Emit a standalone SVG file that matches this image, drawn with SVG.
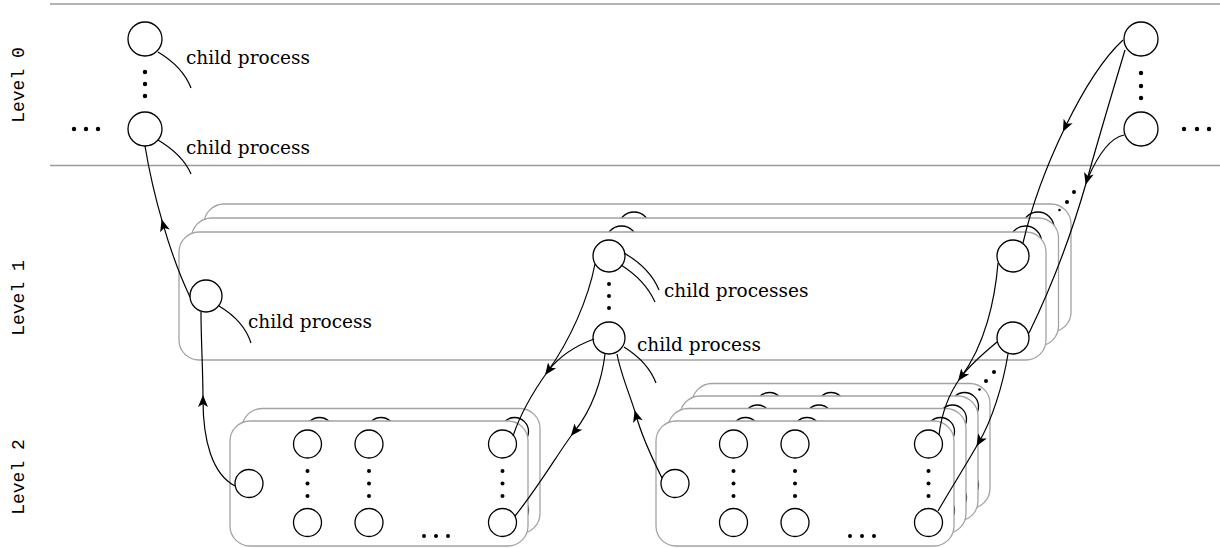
<svg xmlns="http://www.w3.org/2000/svg" xmlns:xlink="http://www.w3.org/1999/xlink" width="1220" height="548" viewBox="0 0 1220 548">
<style>
.rule{stroke:#9a9a9a;stroke-width:1.3;fill:none}
.box{fill:#fff;stroke:#a3a3a3;stroke-width:1.3}
.nd{fill:#fff;stroke:#000;stroke-width:1.3}
.dot{fill:#000}
.ln{fill:none;stroke:#000;stroke-width:1.2}
.lk{fill:none;stroke:#000;stroke-width:1.2;marker-mid:url(#arr)}
.lbl{font-family:"DejaVu Serif","Liberation Serif",serif;font-size:18.5px;fill:#000}
.lvl{font-family:"Liberation Mono","DejaVu Sans Mono",monospace;font-size:18px;fill:#000}
</style>
<defs>
<marker id="arr" viewBox="-9 -7 16 14" markerWidth="16" markerHeight="14" refX="0" refY="0" orient="auto" markerUnits="userSpaceOnUse">
<path d="M5,0 L-7,-5 L-4,0 L-7,5 Z" fill="#000"/>
</marker>
<g id="tplL1">
<rect class="box" x="179" y="232" width="867" height="128" rx="20"/>
<circle class="nd" cx="206" cy="296" r="16"/>
<circle class="nd" cx="609" cy="256" r="16"/>
<circle class="nd" cx="609" cy="338" r="16"/>
<circle class="nd" cx="1013" cy="256" r="16"/>
<circle class="nd" cx="1013" cy="338" r="16"/>
</g>
<g id="tplL2">
<rect class="box" x="230" y="421" width="298" height="125" rx="20"/>
<circle class="nd" cx="249" cy="483.5" r="14"/>
<circle class="nd" cx="307.5" cy="444" r="14"/>
<circle class="nd" cx="307.5" cy="522.5" r="14"/>
<circle class="nd" cx="369" cy="444" r="14"/>
<circle class="nd" cx="369" cy="522.5" r="14"/>
<circle class="nd" cx="502.5" cy="444" r="14"/>
<circle class="nd" cx="502.5" cy="522.5" r="14"/>
</g>
<g id="tplL2dots">
<circle class="dot" cx="307.5" cy="471" r="2"/><circle class="dot" cx="307.5" cy="483.5" r="2"/><circle class="dot" cx="307.5" cy="496" r="2"/>
<circle class="dot" cx="369" cy="471" r="2"/><circle class="dot" cx="369" cy="483.5" r="2"/><circle class="dot" cx="369" cy="496" r="2"/>
<circle class="dot" cx="502.5" cy="471" r="2"/><circle class="dot" cx="502.5" cy="483.5" r="2"/><circle class="dot" cx="502.5" cy="496" r="2"/>
<circle class="dot" cx="424" cy="536" r="2"/><circle class="dot" cx="436" cy="536" r="2"/><circle class="dot" cx="448" cy="536" r="2"/>
</g>
</defs>

<g id="rules">
<line class="rule" x1="50" y1="4" x2="1220" y2="4"/>
<line class="rule" x1="50" y1="165.5" x2="1220" y2="165.5"/>
</g>
<g id="levels">
<text class="lvl" text-anchor="middle" transform="translate(24,85) rotate(-90)">Level 0</text>
<text class="lvl" text-anchor="middle" transform="translate(24,298) rotate(-90)">Level 1</text>
<text class="lvl" text-anchor="middle" transform="translate(24,477) rotate(-90)">Level 2</text>
</g>

<!-- Level 0 -->
<g id="l0-left-top"><circle class="nd" cx="145" cy="39" r="17"/></g>
<g id="l0-left-bottom"><circle class="nd" cx="145" cy="129" r="17"/></g>
<g id="l0-right-top"><circle class="nd" cx="1141" cy="39" r="17"/></g>
<g id="l0-right-bottom"><circle class="nd" cx="1141" cy="129" r="17"/></g>
<g id="l0-dots">
<circle class="dot" cx="145" cy="72" r="2.2"/><circle class="dot" cx="145" cy="84" r="2.2"/><circle class="dot" cx="145" cy="96" r="2.2"/>
<circle class="dot" cx="74" cy="129" r="2.2"/><circle class="dot" cx="86" cy="129" r="2.2"/><circle class="dot" cx="98" cy="129" r="2.2"/>
<circle class="dot" cx="1141" cy="73" r="2.2"/><circle class="dot" cx="1141" cy="86" r="2.2"/><circle class="dot" cx="1141" cy="98" r="2.2"/>
<circle class="dot" cx="1184" cy="129" r="2.2"/><circle class="dot" cx="1197" cy="129" r="2.2"/><circle class="dot" cx="1209" cy="129" r="2.2"/>
</g>

<!-- Level 1 stack -->
<g id="l1-stack">
<use xlink:href="#tplL1" href="#tplL1" transform="translate(25,-28)"/>
<use xlink:href="#tplL1" href="#tplL1" transform="translate(12.5,-14)"/>
<rect class="box" x="179" y="232" width="867" height="128" rx="20"/>
</g>
<g id="l1-left"><circle class="nd" cx="206" cy="296" r="16"/></g>
<g id="l1-center-top"><circle class="nd" cx="609" cy="256" r="16"/></g>
<g id="l1-center-bottom"><circle class="nd" cx="609" cy="338" r="16"/></g>
<g id="l1-right-top"><circle class="nd" cx="1013" cy="256" r="16"/></g>
<g id="l1-right-bottom"><circle class="nd" cx="1013" cy="338" r="16"/></g>
<g id="l1-dots">
<circle class="dot" cx="609" cy="284" r="2"/><circle class="dot" cx="609" cy="296" r="2"/><circle class="dot" cx="609" cy="308" r="2"/>
</g>

<!-- Level 2 group 1 -->
<g id="l2-group1">
<use xlink:href="#tplL2" href="#tplL2" transform="translate(12,-12.5)"/>
<rect class="box" x="230" y="421" width="298" height="125" rx="20"/>
</g>
<g id="l2a-left"><circle class="nd" cx="249" cy="483.5" r="14"/></g>
<g id="l2a-c1-top"><circle class="nd" cx="307.5" cy="444" r="14"/></g>
<g id="l2a-c1-bottom"><circle class="nd" cx="307.5" cy="522.5" r="14"/></g>
<g id="l2a-c2-top"><circle class="nd" cx="369" cy="444" r="14"/></g>
<g id="l2a-c2-bottom"><circle class="nd" cx="369" cy="522.5" r="14"/></g>
<g id="l2a-c3-top"><circle class="nd" cx="502.5" cy="444" r="14"/></g>
<g id="l2a-c3-bottom"><circle class="nd" cx="502.5" cy="522.5" r="14"/></g>
<use id="l2a-dots" xlink:href="#tplL2dots" href="#tplL2dots"/>

<!-- Level 2 group 2 -->
<g id="l2-group2">
<use xlink:href="#tplL2" href="#tplL2" transform="translate(462,-37.5)"/>
<use xlink:href="#tplL2" href="#tplL2" transform="translate(450,-25)"/>
<use xlink:href="#tplL2" href="#tplL2" transform="translate(438,-12.5)"/>
<rect class="box" x="656" y="421" width="298" height="125" rx="20"/>
</g>
<g id="l2b-left"><circle class="nd" cx="675" cy="483.5" r="14"/></g>
<g id="l2b-c1-top"><circle class="nd" cx="733.5" cy="444" r="14"/></g>
<g id="l2b-c1-bottom"><circle class="nd" cx="733.5" cy="522.5" r="14"/></g>
<g id="l2b-c2-top"><circle class="nd" cx="795" cy="444" r="14"/></g>
<g id="l2b-c2-bottom"><circle class="nd" cx="795" cy="522.5" r="14"/></g>
<g id="l2b-c3-top"><circle class="nd" cx="928.5" cy="444" r="14"/></g>
<g id="l2b-c3-bottom"><circle class="nd" cx="928.5" cy="522.5" r="14"/></g>
<use id="l2b-dots" xlink:href="#tplL2dots" href="#tplL2dots" transform="translate(426,0)"/>

<!-- stack dots -->
<g id="stack-dots">
<circle class="dot" cx="1074" cy="192" r="2"/><circle class="dot" cx="1067" cy="202" r="2"/><circle class="dot" cx="1059.5" cy="210" r="1.3"/>
<circle class="dot" cx="994" cy="372" r="2"/><circle class="dot" cx="986" cy="381" r="2"/><circle class="dot" cx="979.5" cy="389.5" r="1.3"/>
</g>

<!-- child process labels -->
<g id="labels">
<path class="ln" d="M158 52 Q183 67 191 88"/>
<text class="lbl" x="186" y="64">child process</text>
<path class="ln" d="M158 140 Q183 155 191 174"/>
<text class="lbl" x="186" y="154">child process</text>
<path class="ln" d="M219 306 Q244 321 251 343"/>
<text class="lbl" x="248" y="328">child process</text>
<path class="ln" d="M624 253 Q650 268 659 290"/>
<path class="ln" d="M621 265 Q645 280 655 302"/>
<text class="lbl" x="664" y="297">child processes</text>
<path class="ln" d="M624 347 Q648 362 656 383"/>
<text class="lbl" x="637" y="351">child process</text>
</g>

<!-- connectors -->
<g id="connectors">
<path class="lk" d="M190 297 C180 276 170.75 250.5 163 224.1 C155.25 197.75 149 170.5 145 146"/>
<path class="lk" d="M235 486 C212 474 203 440 203 400 C203 370 201 340 201 312"/>
<path class="lk" d="M1123 40 C1104 57.5 1083.25 90 1065.1 127.25 C1047 164.5 1031.5 206.5 1023 243"/>
<path class="lk" d="M1125 50 C1110 100 1098 140 1087 180 C1070 240 1050 290 1029 333"/>
<path class="ln" d="M1124 135 C1110 138 1098 155 1088 178"/>
<path class="lk" d="M595 264 C588 300 570 340 548 371 C530 396 520 415 513 436"/>
<path class="ln" d="M594 339 C575 346 558 358 548 371"/>
<path class="lk" d="M605 354 C602 380 592 410 574 432 C560 450 540 485 515 516"/>
<path class="lk" d="M662 478 C652 458 640 430 636 415 C630 395 621 375 617 354"/>
<path class="lk" d="M998 263 C995 300 985 345 961 377 C950 392 942 410 939 435"/>
<path class="ln" d="M997 342 C985 352 970 365 961 377"/>
<path class="lk" d="M1008 354 C1003 385 992 420 979 442 C966 465 950 490 938 511"/>
</g>
</svg>
